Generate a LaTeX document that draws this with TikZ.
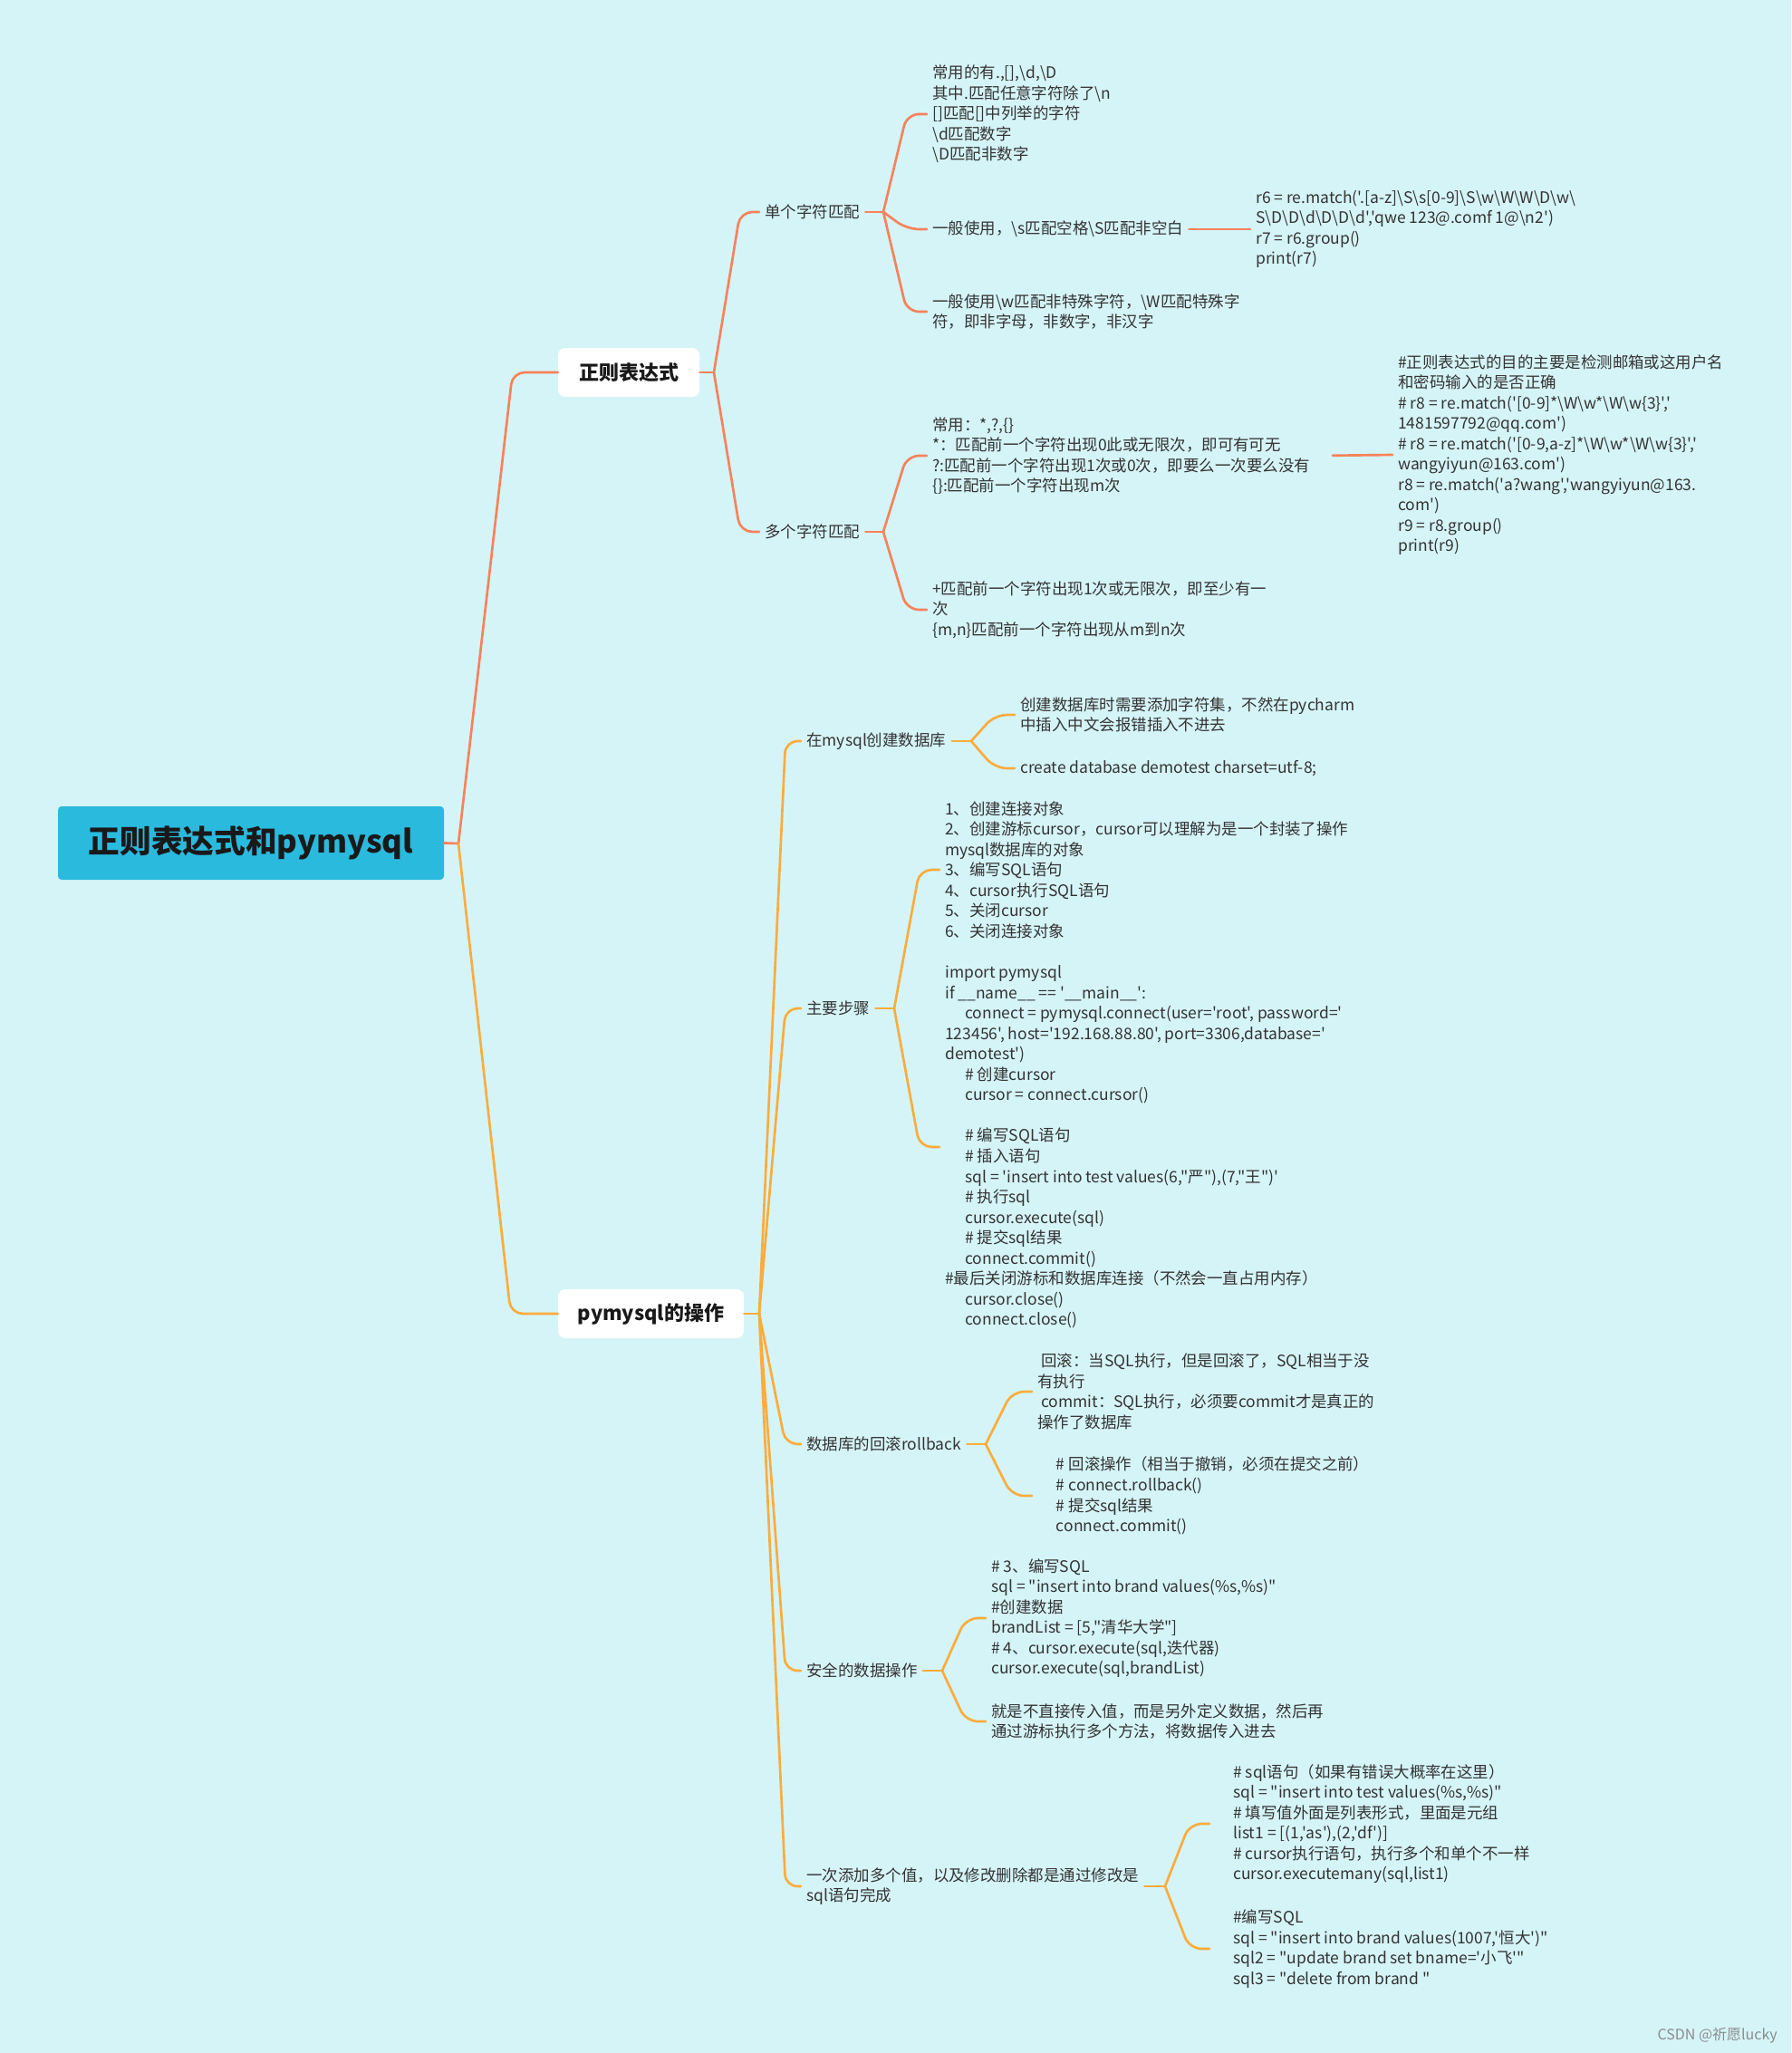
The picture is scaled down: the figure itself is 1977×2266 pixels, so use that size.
\documentclass[tikz,border=0pt]{standalone}
\usepackage{fontspec}
\newfontfamily\zh{Noto Sans CJK SC}
\usetikzlibrary{calc}
\definecolor{bg}{HTML}{D5F4F8}
\definecolor{coral}{HTML}{F7825A}
\definecolor{amber}{HTML}{FBAC3C}
\definecolor{rootc}{HTML}{2ABADD}
\definecolor{ink}{HTML}{333333}
\newcommand{\bsl}{\textbackslash}
\newcommand{\myind}{\hspace*{16.5pt}}
\begin{document}
\begin{tikzpicture}[x=0.75pt,y=-0.75pt,
  txt/.style={font=\zh\fontsize{13.1}{16.9}\selectfont, text=ink, align=left, anchor=west, inner xsep=4.5pt, inner ysep=0pt},
  brbox/.style={fill=white, rounded corners=6pt, font=\zh\bfseries\fontsize{16.5}{20}\selectfont, text=black!90, minimum height=40.5pt, inner xsep=0pt},
  rootbox/.style={fill=rootc, rounded corners=3pt, font=\zh\bfseries\fontsize{26}{30}\selectfont, text=black!90, minimum width=319.5pt, minimum height=60.75pt},
  la/.style={draw=coral, line width=2pt, rounded corners=10pt, line cap=round},
  lb/.style={draw=amber, line width=2pt, rounded corners=10pt, line cap=round}]
\fill[bg] (0,0) rectangle (1977,2266);
\useasboundingbox (0,0) rectangle (1977,2266);

% root and branches
\node[rootbox] (root) at (277,930.5) {正则表达式和pymysql};
\node[brbox, minimum width=117pt] (re) at (694,411) {正则表达式};
\node[brbox, minimum width=153.75pt] (pm) at (718.5,1450) {pymysql的操作};
\coordinate (jr) at (506,931);
\draw[la] (root.east) -- (jr);
\draw[la] (jr) -- ($(re.west)+(-50,0)$) -- (re.west);
\draw[lb] (jr) -- ($(pm.west)+(-52,0)$) -- (pm.west);

% regex branch
\coordinate (jre) at (788,411);
\draw[la] (re.east) -- (jre);
\node[txt] (A) at (838,234) {单个字符匹配};
\node[txt] (B) at (838,587) {多个字符匹配};
\draw[la] (jre) -- ($(A.west)+(-21,0)$) -- (A.west);
\draw[la] (jre) -- ($(B.west)+(-21,0)$) -- (B.west);

\coordinate (jA) at (975,234);
\draw[la] (A.east) -- (jA);
\node[txt] (A1) at (1023,126) {常用的有.,{[]},\bsl d,\bsl D\\
其中.匹配任意字符除了\bsl n\\
{[]}匹配[]中列举的字符\\
\bsl d匹配数字\\
\bsl D匹配非数字};
\node[txt] (A2) at (1023,253) {一般使用，\bsl s匹配空格\bsl S匹配非空白};
\node[txt] (A3) at (1023,344) {一般使用\bsl w匹配非特殊字符，\bsl W匹配特殊字\\
符，即非字母，非数字，非汉字};
\draw[la] (jA) -- ($(A1.west)+(-22,0)$) -- (A1.west);
\draw[la] (jA) -- ($(A2.west)+(-22,0)$) -- (A2.west);
\draw[la] (jA) -- ($(A3.west)+(-22,0)$) -- (A3.west);
\node[txt] (A2c) at (1380,253) {r6 = re.match('.[a-z]\bsl S\bsl s[0-9]\bsl S\bsl w\bsl W\bsl W\bsl D\bsl w\bsl\\
S\bsl D\bsl D\bsl d\bsl D\bsl D\bsl d','qwe 123@.comf 1@\bsl n2')\\
r7 = r6.group()\\
print(r7)};
\draw[la] (A2.east) -- (A2c.west);

\coordinate (jB) at (975,587);
\draw[la] (B.east) -- (jB);
\node[txt] (B1) at (1023,503) {常用：*,?,\{\}\\
{*}：匹配前一个字符出现0此或无限次，即可有可无\\
?:匹配前一个字符出现1次或0次，即要么一次要么没有\\
\{\}:匹配前一个字符出现m次};
\node[txt] (B2) at (1023,673) {+匹配前一个字符出现1次或无限次，即至少有一\\
次\\
\{m,n\}匹配前一个字符出现从m到n次};
\draw[la] (jB) -- ($(B1.west)+(-22,0)$) -- (B1.west);
\draw[la] (jB) -- ($(B2.west)+(-22,0)$) -- (B2.west);
\node[txt] (B1c) at (1537,502) {\#正则表达式的目的主要是检测邮箱或这用户名\\
和密码输入的是否正确\\
\# r8 = re.match('[0-9]*\bsl W\bsl w*\bsl W\bsl w\{3\}','\\
1481597792@qq.com')\\
\# r8 = re.match('[0-9,a-z]*\bsl W\bsl w*\bsl W\bsl w\{3\}','\\
wangyiyun@163.com')\\
r8 = re.match('a?wang','wangyiyun@163.\\
com')\\
r9 = r8.group()\\
print(r9)};
\draw[la, shorten <=14pt] (B1.east) -- (B1c.west);

% pymysql branch
\coordinate (jpm) at (838,1450);
\draw[lb] (pm.east) -- (jpm);
\node[txt] (C) at (884,818) {在mysql创建数据库};
\node[txt] (D) at (884,1113) {主要步骤};
\node[txt] (E) at (884,1594) {数据库的回滚rollback};
\node[txt] (F) at (884,1844) {安全的数据操作};
\node[txt] (G) at (884,2082) {一次添加多个值，以及修改删除都是通过修改是\\
sql语句完成};
\foreach \n in {C,D,E,F,G}
  \draw[lb] (jpm) -- ($(\n.west)+(-17,0)$) -- (\n.west);

\coordinate (jC) at (1072,818);
\draw[lb] (C.east) -- (jC);
\node[txt] (C1) at (1120,789) {创建数据库时需要添加字符集，不然在pycharm\\
中插入中文会报错插入不进去};
\node[txt] (C2) at (1120,848) {create database demotest charset=utf-8;};
\draw[lb] (jC) -- ($(C1.west)+(-22,0)$) -- (C1.west);
\draw[lb] (jC) -- ($(C2.west)+(-22,0)$) -- (C2.west);

\coordinate (jD) at (987,1113);
\draw[lb] (D.east) -- (jD);
\node[txt] (D1) at (1037,960) {1、创建连接对象\\
2、创建游标cursor，cursor可以理解为是一个封装了操作\\
mysql数据库的对象\\
3、编写SQL语句\\
4、cursor执行SQL语句\\
5、关闭cursor\\
6、关闭连接对象};
\node[txt] (D2) at (1037,1266) {import pymysql\\
if \_\_name\_\_ == '\_\_main\_\_':\\
\myind connect = pymysql.connect(user='root', password='\\
123456', host='192.168.88.80', port=3306,database='\\
demotest')\\
\myind \# 创建cursor\\
\myind cursor = connect.cursor()\\
\mbox{}\\
\myind \# 编写SQL语句\\
\myind \# 插入语句\\
\myind sql = 'insert into test values(6,"严"),(7,"王")'\\
\myind \# 执行sql\\
\myind cursor.execute(sql)\\
\myind \# 提交sql结果\\
\myind connect.commit()\\
\#最后关闭游标和数据库连接（不然会一直占用内存）\\
\myind cursor.close()\\
\myind connect.close()};
\draw[lb] (jD) -- ($(D1.west)+(-22,0)$) -- (D1.west);
\draw[lb] (jD) -- ($(D2.west)+(-22,0)$) -- (D2.west);

\coordinate (jE) at (1088,1594);
\draw[lb] (E.east) -- (jE);
\node[txt] (E1) at (1139,1536) {\hspace*{3pt}回滚：当SQL执行，但是回滚了，SQL相当于没\\
有执行\\
\hspace*{3pt}commit：SQL执行，必须要commit才是真正的\\
操作了数据库};
\node[txt, inner xsep=20pt] (E2) at (1139,1651) {\# 回滚操作（相当于撤销，必须在提交之前）\\
\# connect.rollback()\\
\# 提交sql结果\\
connect.commit()};
\draw[lb] (jE) -- ($(E1.west)+(-22,0)$) -- (E1.west);
\draw[lb] (jE) -- ($(E2.west)+(-22,0)$) -- (E2.west);

\coordinate (jF) at (1040,1844);
\draw[lb] (F.east) -- (jF);
\node[txt] (F1) at (1088,1786) {\# 3、编写SQL\\
sql = "insert into brand values(\%s,\%s)"\\
\#创建数据\\
brandList = [5,"清华大学"]\\
\# 4、cursor.execute(sql,迭代器)\\
cursor.execute(sql,brandList)};
\node[txt] (F2) at (1088,1900) {就是不直接传入值，而是另外定义数据，然后再\\
通过游标执行多个方法，将数据传入进去};
\draw[lb] (jF) -- ($(F1.west)+(-22,0)$) -- (F1.west);
\draw[lb] (jF) -- ($(F2.west)+(-22,0)$) -- (F2.west);

\coordinate (jG) at (1286,2082);
\draw[lb] (G.east) -- (jG);
\node[txt, inner xsep=19.5pt] (G1) at (1335,2013) {\# sql语句（如果有错误大概率在这里）\\
sql = "insert into test values(\%s,\%s)"\\
\# 填写值外面是列表形式，里面是元组\\
list1 = [(1,'as'),(2,'df')]\\
\# cursor执行语句，执行多个和单个不一样\\
cursor.executemany(sql,list1)};
\node[txt, inner xsep=19.5pt] (G2) at (1335,2151) {\#编写SQL\\
sql = "insert into brand values(1007,'恒大')"\\
sql2 = "update brand set bname='小飞'"\\
sql3 = "delete from brand "};
\draw[lb] (jG) -- ($(G1.west)+(-22,0)$) -- (G1.west);
\draw[lb] (jG) -- ($(G2.west)+(-22,0)$) -- (G2.west);

\node[font=\zh\fontsize{12}{14}\selectfont, text=black!45, anchor=east, inner sep=0pt] (wm) at (1962,2247) {CSDN @祈愿lucky};
\end{tikzpicture}
\end{document}
